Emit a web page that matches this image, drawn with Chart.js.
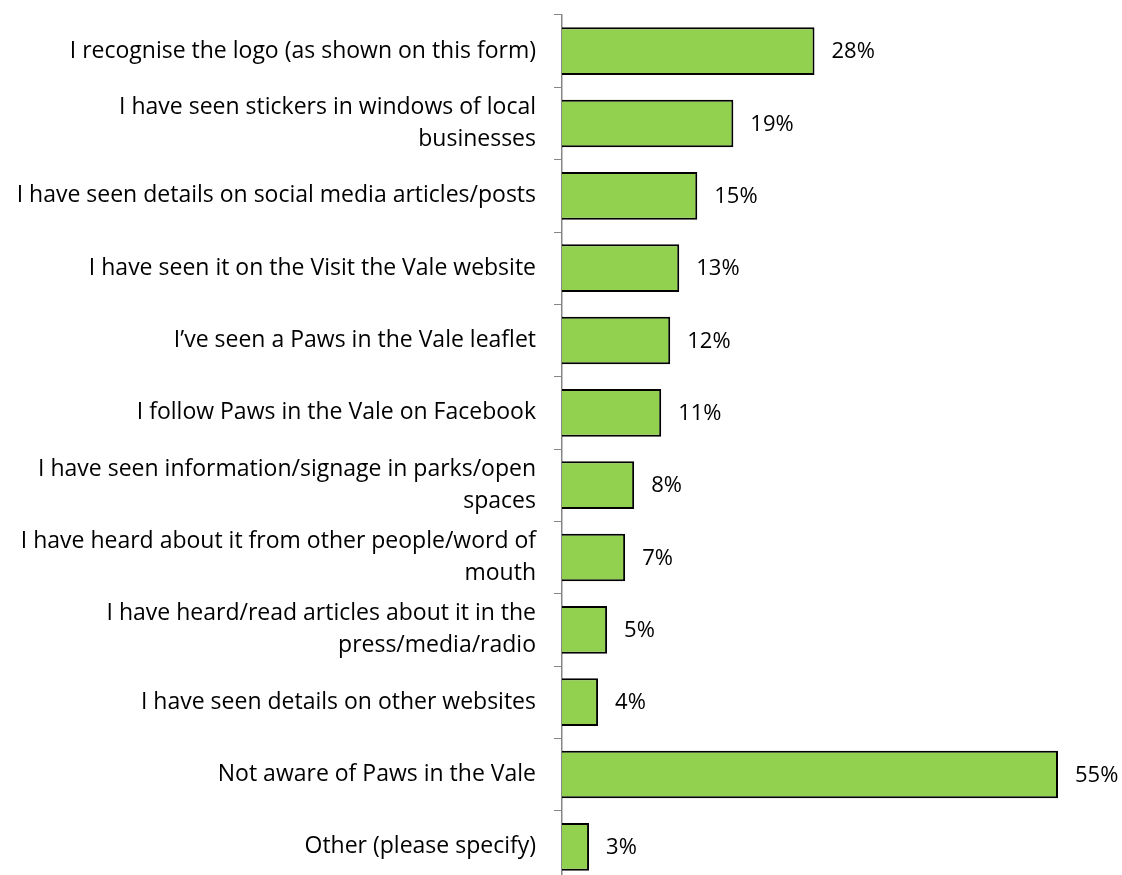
<!DOCTYPE html>
<html>
<head>
<meta charset="utf-8">
<script src="https://cdn.jsdelivr.net/npm/chart.js@4"></script>
<style>
  html, body { margin: 0; padding: 0; background: #fff; overflow: hidden; }
  #wrap { width: 1122px; height: 884px; }
</style>
</head>
<body>
<div id="wrap"><canvas id="awareness"></canvas></div>
<script>
// survey answers, top to bottom
var answers = [
  'I recognise the logo (as shown on this form)',
  ['I have seen stickers in windows of local', 'businesses'],
  'I have seen details on social media articles/posts',
  'I have seen it on the Visit the Vale website',
  'I\u2019ve seen a Paws in the Vale leaflet',
  'I follow Paws in the Vale on Facebook',
  ['I have seen information/signage in parks/open', 'spaces'],
  ['I have heard about it from other people/word of', 'mouth'],
  ['I have heard/read articles about it in the', 'press/media/radio'],
  'I have seen details on other websites',
  'Not aware of Paws in the Vale',
  'Other (please specify)'
];
var percents = [28, 19, 15, 13, 12, 11, 8, 7, 5, 4, 55, 3];

var labelFont = { family: 'Open Sans', size: 23, lineHeight: 1.39 };

// writes the % next to the end of each bar
var valueLabels = {
  id: 'valueLabels',
  afterDatasetsDraw: function(chart) {
    var ctx = chart.ctx;
    var meta = chart.getDatasetMeta(0);
    ctx.save();
    ctx.font = '22px ' + labelFont.family;
    ctx.fillStyle = '#000';
    ctx.textAlign = 'left';
    ctx.textBaseline = 'middle';
    meta.data.forEach(function(bar, i) {
      ctx.fillText(percents[i] + '%', bar.x + 17, bar.y + 1);
    });
    ctx.restore();
  }
};

new Chart(document.getElementById('awareness'), {
  type: 'bar',
  data: {
    labels: answers,
    datasets: [{
      data: percents,
      backgroundColor: '#92d050',
      borderColor: '#000',
      borderWidth: 2,
      categoryPercentage: 1,
      barPercentage: 0.66
    }]
  },
  options: {
    indexAxis: 'y',
    responsive: true,
    maintainAspectRatio: false,
    animation: false,
    layout: { padding: { top: 15, bottom: 1, right: 64, left: 0 } },
    plugins: {
      legend: { display: false },
      tooltip: { enabled: false }
    },
    scales: {
      x: {
        display: false,
        min: 0,
        max: 55
      },
      y: {
        grid: {
          offset: true,
          drawOnChartArea: false,
          drawTicks: true,
          tickLength: 8,
          color: '#868686'
        },
        border: { color: '#868686', width: 1.5 },
        ticks: {
          color: '#000',
          font: labelFont,
          padding: 18,
          autoSkip: false
        },
        afterFit: function(scale) {
          // fixed label column, no extra room for the end labels
          scale.width = 562;
          scale.paddingTop = 0;
          scale.paddingBottom = 0;
        }
      }
    }
  },
  plugins: [valueLabels]
});
</script>
</body>
</html>
